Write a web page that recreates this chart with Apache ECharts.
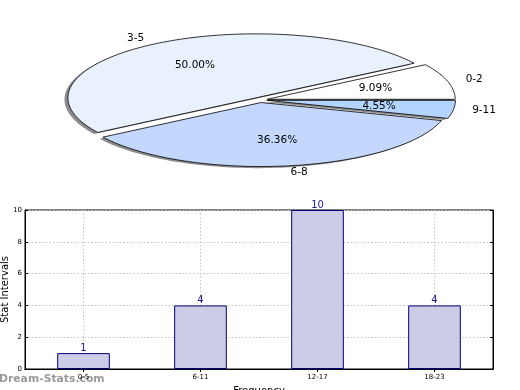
<!DOCTYPE html>
<html><head><meta charset="utf-8">
<script src="https://cdn.jsdelivr.net/npm/echarts@6/dist/echarts.min.js"></script>
<style>html,body{margin:0;padding:0;background:#fff}#c{width:520px;height:390px}</style>
</head><body><div id="c"></div>
<script>
// ---- data ----
const pieLabels = ['0-2', '3-5', '6-8', '9-11'];
const pieValues = [2, 11, 8, 1];
const pieColors = ['#ffffff', '#eaf1fe', '#c4d8fe', '#b3d4fd'];
const barCategories = ['0-5', '6-11', '12-17', '18-23'];
const barValues = [1, 4, 10, 4];
const yMin = 0, yMax = 10, yStep = 2;

// ---- pie geometry (elliptical, matplotlib-like) ----
const P = { cx: 260, cy: 100, a: 188, b: 64, ex: 0.04 };
const total = pieValues.reduce((s, v) => s + v, 0);
const starts = []; let acc = 0;
pieValues.forEach(v => { starts.push(acc / total * 360); acc += v; });
function pt(ox, oy, r, deg) {
  const t = deg * Math.PI / 180;
  return [ox + r * P.a * Math.cos(t), oy - r * P.b * Math.sin(t)];
}
const FONT = '"DejaVu Sans", sans-serif';
function renderPie(params, api) {
  const i = params.dataIndex;
  const v = api.value(0);
  const s = starts[i], e = s + v / total * 360, m = (s + e) / 2, mr = m * Math.PI / 180;
  const ox = P.cx + P.ex * P.a * Math.cos(mr), oy = P.cy - P.ex * P.b * Math.sin(mr);
  const pts = [[ox, oy]];
  const n = Math.max(8, Math.ceil((e - s) / 1.5));
  for (let k = 0; k <= n; k++) pts.push(pt(ox, oy, 1, s + (e - s) * k / n));
  const sh = pts.map(p => [p[0] - 3.5, p[1] + 1.6]);
  const lp = pt(ox, oy, 1.1, m), pp = pt(ox, oy, 0.6, m);
  return {
    type: 'group',
    children: [
      { type: 'polygon', shape: { points: sh }, style: { fill: 'rgba(0,0,0,0.45)' }, z2: 0, silent: true },
      { type: 'polygon', shape: { points: pts }, style: { fill: pieColors[i], stroke: '#000', lineWidth: 0.8, lineJoin: 'round' }, z2: 10 },
      { type: 'text', x: lp[0], y: lp[1], z2: 20,
        style: { text: pieLabels[i], fill: '#000', fontSize: 10.5, fontFamily: FONT,
                 align: Math.cos(mr) > 0 ? 'left' : 'right', verticalAlign: 'middle' } },
      { type: 'text', x: pp[0], y: pp[1], z2: 20,
        style: { text: (v / total * 100).toFixed(2) + '%', fill: '#000', fontSize: 10.5, fontFamily: FONT,
                 align: 'center', verticalAlign: 'middle' } }
    ]
  };
}

const chart = echarts.init(document.getElementById('c'), null, { renderer: 'canvas' });
const tickStyle = { color: '#000', width: 1 };
chart.setOption({
  animation: false,
  backgroundColor: '#fff',
  textStyle: { fontFamily: FONT },
  title: {
    text: 'Dream-Stats.com', left: -1, top: 374, padding: 0, z: 0,
    textStyle: { color: '#9a9a9a', fontSize: 10.8, fontWeight: 'bold', fontFamily: FONT }
  },
  grid: { left: 25, right: 27, top: 210, bottom: 21, show: true, borderColor: '#000', borderWidth: 1, outerBoundsMode: 'none', containLabel: false },
  xAxis: [{
    type: 'category', data: barCategories, position: 'bottom',
    name: 'Frequency', nameLocation: 'middle', nameGap: 17, nameMoveOverlap: false,
    nameTextStyle: { fontSize: 10, color: '#000', fontFamily: FONT },
    axisLine: { show: true, lineStyle: { color: '#000' } },
    axisTick: { show: true, inside: true, alignWithLabel: true, length: 3, lineStyle: tickStyle },
    axisLabel: { fontSize: 7, color: '#000', margin: 5, fontFamily: FONT },
    splitLine: { show: true, alignWithLabel: true, lineStyle: { color: '#c4c4c4', type: [1.5, 2], width: 1 } }
  }, {
    type: 'category', data: barCategories, position: 'top',
    axisLine: { show: true, lineStyle: { color: '#000' } },
    axisTick: { show: true, inside: true, alignWithLabel: true, length: 3, lineStyle: tickStyle },
    axisLabel: { show: false }, splitLine: { show: false }
  }],
  yAxis: [{
    type: 'value', min: yMin, max: yMax, interval: yStep, position: 'left',
    name: 'Stat Intervals', nameLocation: 'middle', nameRotate: 90, nameGap: 15, nameMoveOverlap: false,
    nameTextStyle: { fontSize: 10, color: '#000', fontFamily: FONT },
    axisLine: { show: true, lineStyle: { color: '#000' } },
    axisTick: { show: true, inside: true, length: 3, lineStyle: tickStyle },
    axisLabel: { fontSize: 7, color: '#000', margin: 3, fontFamily: FONT },
    splitLine: { show: true, lineStyle: { color: '#c4c4c4', type: [1.5, 2], width: 1 } }
  }, {
    type: 'value', min: yMin, max: yMax, interval: yStep, position: 'right',
    axisLine: { show: true, lineStyle: { color: '#000' } },
    axisTick: { show: true, inside: true, length: 3, lineStyle: tickStyle },
    axisLabel: { show: false }, splitLine: { show: false }
  }],
  series: [{
    type: 'bar', data: barValues, xAxisIndex: 0, yAxisIndex: 0, barWidth: '45%',
    itemStyle: { color: '#ccccE6', borderColor: '#00007f', borderWidth: 1 },
    label: { show: true, position: 'top', distance: 0, color: '#1f1f8f', fontSize: 10, fontFamily: FONT }
  }, {
    type: 'custom', coordinateSystem: 'none', renderItem: renderPie,
    data: pieValues.map(v => [v])
  }]
});
</script></body></html>
